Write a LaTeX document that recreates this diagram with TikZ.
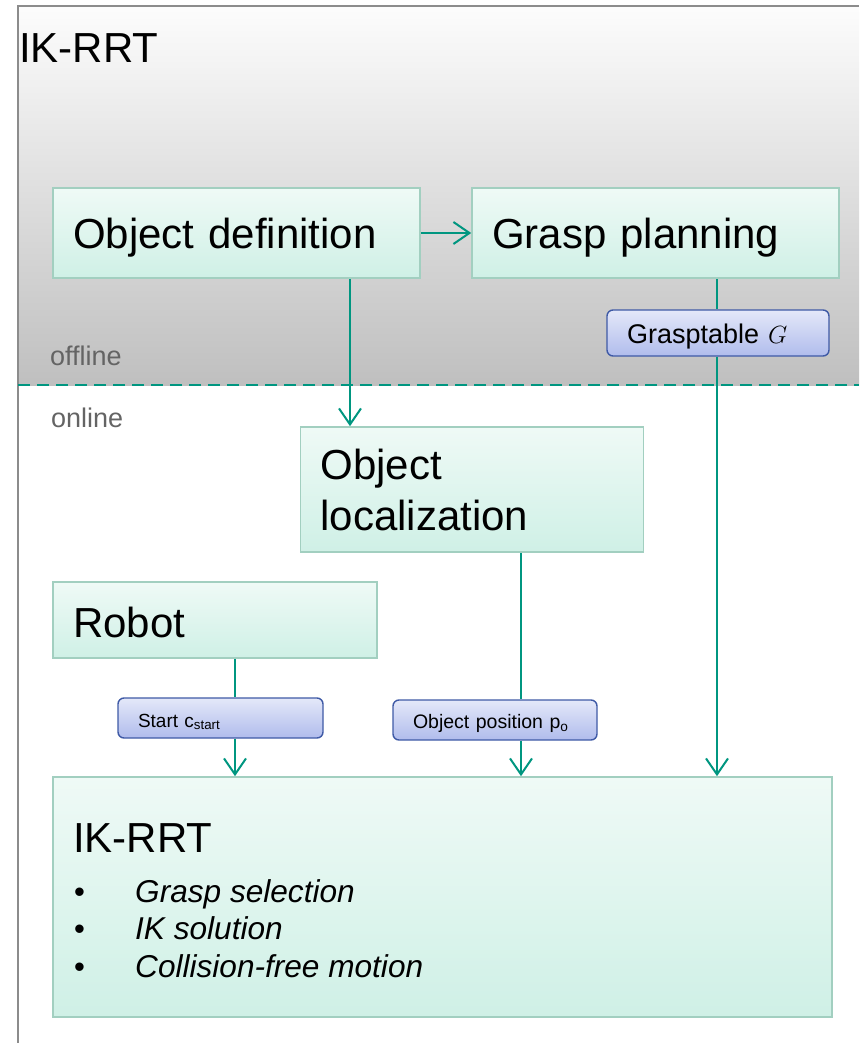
\documentclass[tikz,border=0pt]{standalone}
\usepackage{fontspec}
\setmainfont{Liberation Sans}
\usetikzlibrary{arrows.meta}
\definecolor{tealc}{RGB}{0,150,128}
\definecolor{boxtop}{RGB}{239,250,246}
\definecolor{boxbot}{RGB}{207,240,230}
\definecolor{boxborder}{RGB}{162,207,192}
\definecolor{lbltop}{RGB}{228,232,249}
\definecolor{lblbot}{RGB}{176,188,236}
\definecolor{lblborder}{RGB}{63,90,166}
\definecolor{framec}{RGB}{140,140,140}
\definecolor{phasec}{RGB}{100,100,100}
\begin{document}
\begin{tikzpicture}[x=1pt,y=-1pt,
  procbox/.style={draw=boxborder, line width=1.6pt, top color=boxtop, bottom color=boxbot,
    inner xsep=20pt, inner ysep=0pt, align=left, font=\fontsize{42}{51}\selectfont},
  lblbox/.style={draw=lblborder, line width=1.4pt, rounded corners=6pt, top color=lbltop,
    bottom color=lblbot, inner xsep=20pt, inner ysep=0pt, align=left, text depth=0pt},
  conn/.style={draw=tealc, line width=2pt},
  arr/.style={conn, -{Straight Barb[length=16pt,width=22pt]}},
  txt/.style={anchor=base west, inner sep=0pt},
  phase/.style={txt, text=phasec, font=\fontsize{27}{32}\selectfont},
  itemtxt/.style={txt, font=\fontsize{31.6}{36}\selectfont\itshape},
  bullettxt/.style={txt, font=\fontsize{31}{36}\selectfont}
]
\useasboundingbox (0,0) rectangle (859,1043);
% offline background
\shade[top color=black!1, bottom color=black!25] (18,6) rectangle (859,385);
\draw[draw=framec, line width=2pt] (18,1043) -- (18,6) -- (859,6);
\draw[draw=tealc, line width=2pt, dash pattern=on 12pt off 7pt] (18,385) -- (859,385);

\node[txt, font=\fontsize{42}{50}\selectfont] (title) at (19,63) {IK-RRT};
\node[phase] (offline) at (50,365) {offline};
\node[phase] (online) at (51,427) {online};

% process boxes
\node[procbox, text width=327pt, minimum height=90pt, text height=30pt, text depth=0pt] (objdef) at (236.5,233) {Object definition};
\node[procbox, text width=327pt, minimum height=90pt, text height=30pt, text depth=0pt] (grasp) at (655.5,233) {Grasp planning};
\node[procbox, text width=303pt, minimum height=125pt] (objloc) at (472,489.5) {Object\\localization};
\node[procbox, text width=284pt, minimum height=76pt, text height=34pt, text depth=0pt] (robot) at (215,620) {Robot};
\node[procbox, minimum width=779pt, minimum height=240pt] (ik) at (442.5,897) {};

% IK box content
\node[txt, font=\fontsize{42}{50}\selectfont] (iktitle) at (73,852) {IK-RRT};
\node[bullettxt] (b1) at (74,902) {\textbullet};
\node[bullettxt] (b2) at (74,939.5) {\textbullet};
\node[bullettxt] (b3) at (74,977) {\textbullet};
\node[itemtxt] (i1) at (135,902) {Grasp selection};
\node[itemtxt] (i2) at (135,939.5) {IK solution};
\node[itemtxt] (i3) at (135,977) {Collision-free motion};

% labels
\node[lblbox, text width=182pt, minimum height=46pt, text height=20pt, font=\fontsize{27}{32}\selectfont] (gtab) at (718,333) {Grasptable $G$};
\node[lblbox, text width=165pt, minimum height=40pt, text height=18pt, font=\fontsize{19}{22}\selectfont] (start) at (220.5,718) {Start c\textsubscript{start}};
\node[lblbox, text width=164pt, minimum height=40pt, text height=16pt, font=\fontsize{19.5}{22}\selectfont] (opos) at (495,720) {Object position p\textsubscript{o}};

% connector columns
\coordinate (cA) at (350,0);
\coordinate (cB) at (717,0);
\coordinate (cC) at (235,0);
\coordinate (cD) at (521,0);

% connectors
\draw[arr] (objdef.east) -- (grasp.west);
\draw[arr] (objdef.south -| cA) -- (objloc.north -| cA);
\draw[conn] (grasp.south -| cB) -- (gtab.north -| cB);
\draw[arr] (gtab.south -| cB) -- (ik.north -| cB);
\draw[conn] (robot.south -| cC) -- (start.north -| cC);
\draw[arr] (start.south -| cC) -- (ik.north -| cC);
\draw[conn] (objloc.south -| cD) -- (opos.north -| cD);
\draw[arr] (opos.south -| cD) -- (ik.north -| cD);
\end{tikzpicture}
\end{document}
